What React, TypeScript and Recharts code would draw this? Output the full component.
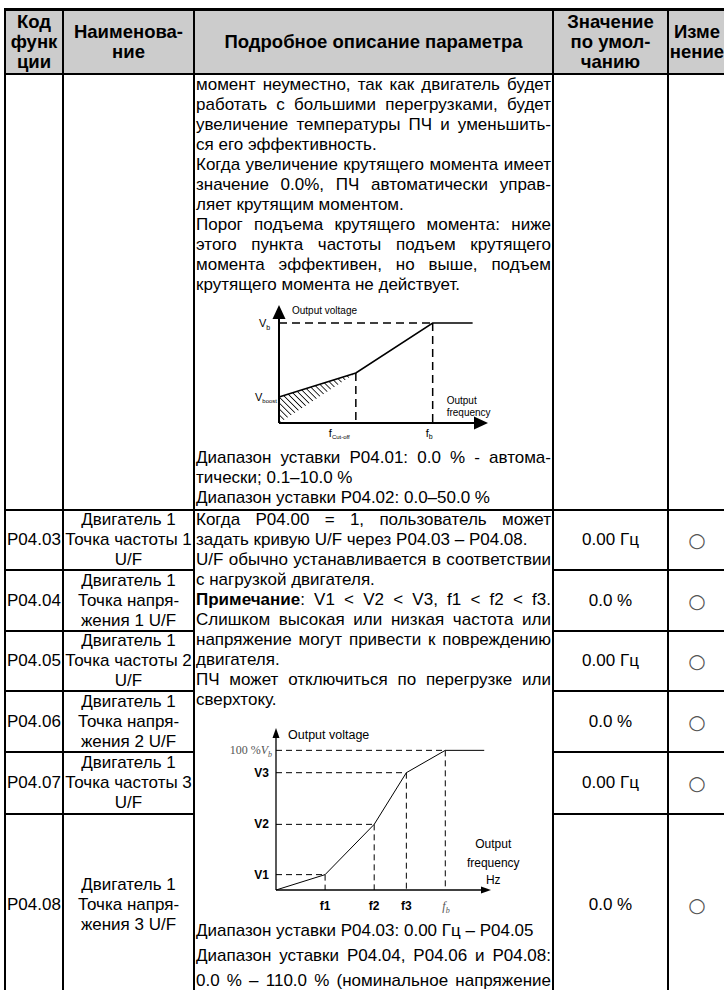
import React from 'react';
import {
  ComposedChart,
  Line,
  Area,
  Scatter,
  XAxis,
  YAxis,
  ReferenceLine,
  ReferenceDot,
} from 'recharts';

// U/F curve with torque boost, frequency in % of fb, voltage in % of Vb
const boostFreq = [0, 50, 100, 126];
const boostVolt = [26, 50, 100, 100];
const boostBandLow = [0, 50];
const boostBandHigh = [26, 50];
const boostAxisMax = [136, 118];

// user-defined U/F curve (P04.03 – P04.08)
const userFreq = [0, 29, 58, 77, 100, 123];
const userVolt = [0, 11, 47, 84, 100, 100];
const userFreqLabels = ['', 'f1', 'f2', 'f3', 'fb', ''];
const userVoltLabels = ['', 'V1', 'V2', 'V3', '100 %Vb', ''];
const userAxisMax = [127, 116];

const paramCodes = ['P04.03', 'P04.04', 'P04.05', 'P04.06', 'P04.07', 'P04.08'];
const paramNames = [
  ['Двигатель 1', 'Точка частоты 1', 'U/F'],
  ['Двигатель 1', 'Точка напря-', 'жения 1 U/F'],
  ['Двигатель 1', 'Точка частоты 2', 'U/F'],
  ['Двигатель 1', 'Точка напря-', 'жения 2 U/F'],
  ['Двигатель 1', 'Точка частоты 3', 'U/F'],
  ['Двигатель 1', 'Точка напря-', 'жения 3 U/F'],
];
const paramDefaults = ['0.00 Гц', '0.0 %', '0.00 Гц', '0.0 %', '0.00 Гц', '0.0 %'];

// [text, justified]
const boostTextTop: [string, boolean][] = [
  ['момент неуместно, так как двигатель будет', true],
  ['работать с большими перегрузками, будет', true],
  ['увеличение температуры ПЧ и уменьшить-', true],
  ['ся его эффективность.', false],
  ['Когда увеличение крутящего момента имеет', true],
  ['значение 0.0%, ПЧ автоматически управ-', true],
  ['ляет крутящим моментом.', false],
  ['Порог подъема крутящего момента: ниже', true],
  ['этого пункта частоты подъем крутящего', true],
  ['момента эффективен, но выше, подъем', true],
  ['крутящего момента не действует.', false],
];
const boostTextBottom: [string, boolean][] = [
  ['Диапазон уставки P04.01: 0.0 % - автома-', true],
  ['тически; 0.1–10.0 %', false],
  ['Диапазон уставки P04.02: 0.0–50.0 %', false],
];
const userTextTop: [string, boolean][] = [
  ['Когда P04.00 = 1, пользователь может', true],
  ['задать кривую U/F через P04.03 – P04.08.', false],
  ['U/F обычно устанавливается в соответствии', true],
  ['с нагрузкой двигателя.', false],
  ['§V1 < V2 < V3,  f1 < f2 < f3.', true],
  ['Слишком высокая или низкая частота или', true],
  ['напряжение могут привести к повреждению', true],
  ['двигателя.', false],
  ['ПЧ может отключиться по перегрузке или', true],
  ['сверхтоку.', false],
];
const userTextBottom: [string, boolean][] = [
  ['Диапазон уставки P04.03: 0.00 Гц – P04.05', false],
  ['Диапазон уставки P04.04, P04.06 и P04.08:', true],
  ['0.0 % – 110.0 % (номинальное напряжение', true],
];

const COLS = [5, 63, 194, 553, 668, 726];
const ROWS = [9, 74, 510, 570, 631, 691, 752, 814, 996];
const SANS = '"Liberation Sans", Arial, sans-serif';
const SERIF = '"Liberation Serif", "DejaVu Serif", serif';

const HLine = ({ y, x1, x2, w = 2 }: { y: number; x1: number; x2: number; w?: number }) => (
  <div style={{ position: 'absolute', left: x1 - 1, top: y - w / 2, width: x2 - x1 + 2, height: w, background: '#000' }} />
);
const VLine = ({ x, y1, y2 }: { x: number; y1: number; y2: number }) => (
  <div style={{ position: 'absolute', left: x - 1, top: y1, width: 2, height: y2 - y1, background: '#000' }} />
);

const Cell = ({ x1, x2, y1, y2, lines, bold, align = 'center', style }: any) => (
  <div
    style={{
      position: 'absolute',
      left: x1,
      top: y1,
      width: x2 - x1,
      height: y2 - y1,
      display: 'flex',
      flexDirection: 'column',
      justifyContent: 'center',
      alignItems: align === 'center' ? 'center' : 'flex-start',
      paddingLeft: align === 'center' ? 0 : 2,
      boxSizing: 'border-box',
      fontWeight: bold ? 700 : 400,
      lineHeight: '20px',
      whiteSpace: 'nowrap',
      ...style,
    }}
  >
    {lines.map((l: string, i: number) => (
      <div key={i}>{l}</div>
    ))}
  </div>
);

const TextBlock = ({ top, lines, lh = 20 }: { top: number; lines: [string, boolean][]; lh?: number }) => (
  <div style={{ position: 'absolute', left: 196, top, width: 355 }}>
    {lines.map(([t, j], i) => (
      <div
        key={i}
        style={{
          height: lh,
          lineHeight: `${lh}px`,
          whiteSpace: 'nowrap',
          textAlign: j ? 'justify' : 'left',
          textAlignLast: j ? 'justify' : 'left',
        }}
      >
        {t.startsWith('§') ? (
          <>
            <b>Примечание</b>:{'  '}
            {t.slice(1)}
          </>
        ) : (
          t
        )}
      </div>
    ))}
  </div>
);

// label anchored to a data point
const note = (draw: (x: number, y: number) => React.ReactNode) => (p: any) => {
  const vb = p.viewBox || { x: 0, y: 0, width: 0, height: 0 };
  return <g>{draw(vb.x + (vb.width || 0) / 2, vb.y + (vb.height || 0) / 2)}</g>;
};

const arrowShape = (len: number, half: number) => (p: any) => {
  const { cx, cy, payload } = p;
  const d =
    payload.dir === 'right'
      ? `M${cx},${cy} L${cx - len},${cy - half} L${cx - len},${cy + half} Z`
      : `M${cx},${cy} L${cx - half},${cy + len} L${cx + half},${cy + len} Z`;
  return <path d={d} fill='#000' />;
};

const BoostChart = () => {
  const data = boostFreq.map((f, i) => ({
    f,
    v: boostVolt[i],
    band: i < boostBandLow.length ? [boostBandLow[i], boostBandHigh[i]] : undefined,
  }));
  const arrows = [
    { f: boostAxisMax[0], v: 0, dir: 'right' },
    { f: 0, v: boostAxisMax[1], dir: 'up' },
  ];
  const fs = { fontFamily: SANS, fontSize: 11, fill: '#000' };
  return (
    <ComposedChart width={280} height={150} data={data} margin={{ top: 10, right: 22, bottom: 22, left: 49 }}>
      <defs>
        <pattern id='boostHatch' width='4.2' height='4.2' patternUnits='userSpaceOnUse' patternTransform='rotate(-45)'>
          <line x1='0' y1='0' x2='0' y2='4.2' stroke='#000' strokeWidth='1.6' />
        </pattern>
      </defs>
      <XAxis dataKey='f' type='number' domain={[0, boostAxisMax[0]]} hide />
      <YAxis type='number' domain={[0, boostAxisMax[1]]} hide />
      <Area dataKey='band' type='linear' fill='url(#boostHatch)' fillOpacity={1} stroke='none' isAnimationActive={false} />
      <ReferenceLine segment={[{ x: 0, y: 100 }, { x: 100, y: 100 }]} stroke='#000' strokeWidth={1.5} strokeDasharray='8 5' />
      <ReferenceLine segment={[{ x: 100, y: 100 }, { x: 100, y: 0 }]} stroke='#000' strokeWidth={1.5} strokeDasharray='8 5' />
      <ReferenceLine segment={[{ x: 50, y: 50 }, { x: 50, y: 0 }]} stroke='#000' strokeWidth={1.5} strokeDasharray='8 5' />
      <ReferenceLine segment={[{ x: 0, y: 0 }, { x: 128, y: 0 }]} stroke='#000' strokeWidth={2} />
      <ReferenceLine segment={[{ x: 0, y: 0 }, { x: 0, y: 110 }]} stroke='#000' strokeWidth={2} />
      <Line dataKey='v' type='linear' stroke='#000' strokeWidth={1.5} dot={false} isAnimationActive={false} />
      <Scatter data={arrows} dataKey='v' shape={arrowShape(14, 6.5)} isAnimationActive={false} />
      <ReferenceDot x={0} y={boostAxisMax[1]} r={0} fill='none' stroke='none'
        label={note((x, y) => <text x={x + 13} y={y + 9} {...fs} fontSize={10}>Output voltage</text>)} />
      <ReferenceDot x={0} y={100} r={0} fill='none' stroke='none'
        label={note((x, y) => (
          <text x={x - 20} y={y + 4} {...fs}>V<tspan fontSize={7} dy={3}>b</tspan></text>
        ))} />
      <ReferenceDot x={0} y={boostBandHigh[0]} r={0} fill='none' stroke='none'
        label={note((x, y) => (
          <text x={x - 24} y={y + 4} {...fs}>V<tspan fontSize={6} dy={2}>boost</tspan></text>
        ))} />
      <ReferenceDot x={100} y={0} r={0} fill='none' stroke='none'
        label={note((x, y) => (
          <text {...fs} fontSize={10}>
            <tspan x={x + 14} y={y - 19}>Output</tspan>
            <tspan x={x + 14} y={y - 7}>frequency</tspan>
          </text>
        ))} />
      <ReferenceDot x={50} y={0} r={0} fill='none' stroke='none'
        label={note((x, y) => (
          <text x={x - 27} y={y + 14} {...fs}>f<tspan fontSize={6} dy={2}>Cut-off</tspan></text>
        ))} />
      <ReferenceDot x={100} y={0} r={0} fill='none' stroke='none'
        label={note((x, y) => (
          <text x={x - 7} y={y + 14} {...fs}>f<tspan fontSize={7} dy={2}>b</tspan></text>
        ))} />
    </ComposedChart>
  );
};

const UserChart = () => {
  const data = userFreq.map((f, i) => ({ f, v: userVolt[i] }));
  const arrows = [
    { f: userAxisMax[0], v: 0, dir: 'right' },
    { f: 0, v: userAxisMax[1], dir: 'up' },
  ];
  const fs = { fontFamily: SANS, fontSize: 12, fill: '#000' };
  const pts = userFreq.map((f, i) => ({ f, v: userVolt[i], fl: userFreqLabels[i], vl: userVoltLabels[i] })).filter((p) => p.fl);
  return (
    <ComposedChart width={310} height={200} data={data} margin={{ top: 13, right: 39, bottom: 25, left: 56 }}>
      <XAxis dataKey='f' type='number' domain={[0, userAxisMax[0]]} hide />
      <YAxis type='number' domain={[0, userAxisMax[1]]} hide />
      {pts.map((p) => (
        <ReferenceLine key={'h' + p.fl} segment={[{ x: 0, y: p.v }, { x: p.f, y: p.v }]} stroke='#000' strokeWidth={1} strokeDasharray='6 4' />
      ))}
      {pts.map((p) => (
        <ReferenceLine key={'v' + p.fl} segment={[{ x: p.f, y: p.v }, { x: p.f, y: 0 }]} stroke='#000' strokeWidth={1} strokeDasharray='6 4' />
      ))}
      <ReferenceLine segment={[{ x: 0, y: 0 }, { x: 122, y: 0 }]} stroke='#000' strokeWidth={1.3} />
      <ReferenceLine segment={[{ x: 0, y: 0 }, { x: 0, y: 110 }]} stroke='#000' strokeWidth={1.3} />
      <Line dataKey='v' type='linear' stroke='#000' strokeWidth={1} dot={false} isAnimationActive={false} />
      <Scatter data={arrows} dataKey='v' shape={arrowShape(10, 3.5)} isAnimationActive={false} />
      <ReferenceDot x={0} y={userAxisMax[1]} r={0} fill='none' stroke='none'
        label={note((x, y) => <text x={x + 12} y={y + 11} {...fs} fontSize={12.5}>Output voltage</text>)} />
      {pts.map((p) => (
        <ReferenceDot key={'vl' + p.fl} x={0} y={p.v} r={0} fill='none' stroke='none'
          label={note((x, y) =>
            p.fl === 'fb' ? (
              <text x={x - 4} y={y + 4} textAnchor='end' fontFamily={SERIF} fontSize={12} fill='#555'>
                100 %<tspan fontStyle='italic'>V</tspan><tspan fontStyle='italic' fontSize={8} dy={3}>b</tspan>
              </text>
            ) : (
              <text x={x - 7} y={y + 4} textAnchor='end' {...fs} fontWeight={700}>{p.vl}</text>
            )
          )} />
      ))}
      {pts.map((p) => (
        <ReferenceDot key={'fl' + p.fl} x={p.f} y={0} r={0} fill='none' stroke='none'
          label={note((x, y) =>
            p.fl === 'fb' ? (
              <text x={x - 3} y={y + 20} fontFamily={SERIF} fontStyle='italic' fontSize={12} fill='#555'>
                f<tspan fontSize={8} dy={3}>b</tspan>
              </text>
            ) : (
              <text x={x} y={y + 20} textAnchor='middle' {...fs} fontWeight={700}>{p.fl}</text>
            )
          )} />
      ))}
      <ReferenceDot x={userFreq[userFreq.length - 1]} y={0} r={0} fill='none' stroke='none'
        label={note((x, y) => (
          <text textAnchor='middle' {...fs}>
            <tspan x={x + 9} y={y - 42}>Output</tspan>
            <tspan x={x + 9} y={y - 23}>frequency</tspan>
            <tspan x={x + 9} y={y - 6}>Hz</tspan>
          </text>
        ))} />
    </ComposedChart>
  );
};

export default function App() {
  const fontSize = 17;
  return (
    <div
      style={{
        position: 'absolute',
        left: 0,
        top: 0,
        width: 724,
        height: 990,
        overflow: 'hidden',
        background: '#fff',
        fontFamily: SANS,
        fontSize,
        color: '#000',
      }}
    >
      <div style={{ position: 'absolute', left: COLS[0], top: ROWS[0], width: COLS[5] - COLS[0], height: ROWS[1] - ROWS[0], background: '#cccccc' }} />

      {/* header */}
      <Cell x1={COLS[0]} x2={COLS[1]} y1={ROWS[0]} y2={ROWS[1]} lines={['Код', 'функ', 'ции']} bold style={{ fontSize: 18.5 }} />
      <Cell x1={COLS[1]} x2={COLS[2]} y1={ROWS[0]} y2={ROWS[1]} lines={['Наименова-', 'ние']} bold style={{ fontSize: 18.5 }} />
      <Cell x1={COLS[2]} x2={COLS[3]} y1={ROWS[0]} y2={ROWS[1]} lines={['Подробное описание параметра']} bold style={{ fontSize: 18.5 }} />
      <Cell x1={COLS[3]} x2={COLS[4]} y1={ROWS[0]} y2={ROWS[1]} lines={['Значение', 'по умол-', 'чанию']} bold style={{ fontSize: 18.5 }} />
      <Cell x1={COLS[4]} x2={COLS[5]} y1={ROWS[0]} y2={ROWS[1]} lines={['Изме', 'нение']} bold style={{ fontSize: 18.5 }} />

      {/* parameter rows */}
      {paramCodes.map((c, i) => (
        <React.Fragment key={c}>
          <Cell x1={COLS[0]} x2={COLS[1]} y1={ROWS[i + 2]} y2={ROWS[i + 3]} lines={[c]} align='left' />
          <Cell x1={COLS[1]} x2={COLS[2]} y1={ROWS[i + 2]} y2={ROWS[i + 3]} lines={paramNames[i]} />
          <Cell x1={COLS[3]} x2={COLS[4]} y1={ROWS[i + 2]} y2={ROWS[i + 3]} lines={[paramDefaults[i]]} />
          <Cell x1={COLS[4]} x2={COLS[5]} y1={ROWS[i + 2]} y2={ROWS[i + 3]} lines={['○']} style={{ fontSize: 20, color: '#555', fontFamily: '"DejaVu Sans", sans-serif' }} />
        </React.Fragment>
      ))}

      <TextBlock top={75} lines={boostTextTop} />
      <div style={{ position: 'absolute', left: 230, top: 295 }}>
        <BoostChart />
      </div>
      <TextBlock top={448} lines={boostTextBottom} />

      <TextBlock top={510} lines={userTextTop} />
      <div style={{ position: 'absolute', left: 220, top: 715 }}>
        <UserChart />
      </div>
      <TextBlock top={918} lines={userTextBottom} lh={25} />

      {/* grid */}
      <HLine y={ROWS[0]} x1={COLS[0]} x2={COLS[5]} w={3} />
      <HLine y={ROWS[1]} x1={COLS[0]} x2={COLS[5]} />
      <HLine y={ROWS[2]} x1={COLS[0]} x2={COLS[5]} />
      {ROWS.slice(3, 8).map((y) => (
        <React.Fragment key={y}>
          <HLine y={y} x1={COLS[0]} x2={COLS[2]} />
          <HLine y={y} x1={COLS[3]} x2={COLS[5]} />
        </React.Fragment>
      ))}
      {COLS.slice(0, 5).map((x) => (
        <VLine key={x} x={x} y1={ROWS[0]} y2={1000} />
      ))}
    </div>
  );
}
